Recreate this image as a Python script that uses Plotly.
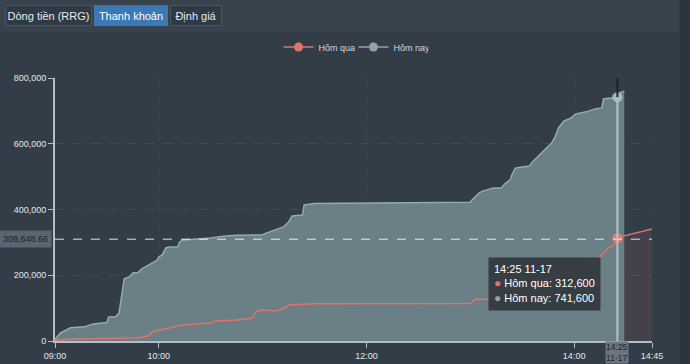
import plotly.graph_objects as go

DAY = "2023-11-17"

# Hôm nay (today) cumulative liquidity
today_times = ["09:00", "09:03", "09:09", "09:17", "09:22", "09:28", "09:30", "09:31", "09:35", "09:37",
               "09:39", "09:40", "09:43", "09:45", "09:48", "09:50", "09:52", "09:56", "09:59", "10:00",
               "10:02", "10:04", "10:06", "10:11", "10:12", "10:14", "10:22", "10:30", "10:37", "10:45",
               "11:00", "11:04", "11:12", "11:15", "11:17", "11:23", "11:24", "11:28", "11:30", "13:00",
               "13:01", "13:05", "13:07", "13:13", "13:18", "13:20", "13:23", "13:24", "13:26", "13:30",
               "13:34", "13:36", "13:40", "13:44", "13:47", "13:49", "13:51", "13:54", "13:58", "14:01",
               "14:07", "14:12", "14:16", "14:17", "14:22", "14:25", "14:26", "14:29"]
today_values = [5000, 24000, 40000, 43000, 52000, 55000, 56000, 73000, 74000, 85000,
                155000, 189000, 195000, 207000, 208000, 219000, 225000, 237000, 246000, 256000,
                262000, 283000, 286000, 287000, 301000, 307000, 310000, 313000, 319000, 322000,
                323000, 332000, 347000, 362000, 380000, 383000, 414000, 417000, 418000, 422000,
                429000, 450000, 456000, 465000, 466000, 478000, 490000, 505000, 526000, 529000,
                532000, 545000, 566000, 587000, 602000, 621000, 648000, 669000, 678000, 691000,
                697000, 706000, 709000, 736000, 739000, 741600, 754000, 760000]

# Hôm qua (yesterday) cumulative liquidity
yest_times = ["09:00", "09:09", "09:48", "09:54", "09:55", "09:57", "10:03", "10:14", "10:22", "10:30",
              "10:33", "10:45", "10:54", "10:56", "10:59", "11:08", "11:16", "11:27", "11:30", "13:00",
              "13:03", "13:11", "13:15", "13:30", "13:45", "14:00", "14:10", "14:15", "14:17", "14:20",
              "14:23", "14:25", "14:26", "14:45"]
yest_values = [2000, 5000, 10000, 15000, 21000, 30000, 36000, 49000, 52000, 55000,
               61000, 64000, 70000, 88000, 94000, 91000, 110000, 113000, 113000, 114000,
               127000, 127000, 146000, 165000, 190000, 215000, 235000, 256000, 268000, 283000,
               292000, 312600, 316000, 341000]

x_tick_labels = ["09:00", "10:00", "12:00", "14:00", "14:45"]
y_tick_values = [0, 200000, 400000, 600000, 800000]
series_names = ["Hôm qua", "Hôm nay"]
hover_time = "14:25"
hover_date_label = "11-17"
hover_yest = 312600
hover_today = 741600
ref_level = 309648.66
buttons = ["Dòng tiền (RRG)", "Thanh khoản", "Định giá"]

C_YEST = "#e0736a"
C_TODAY_LINE = "#96aaaf"
C_TODAY_FILL = "#6b7f86"
C_TODAY_LEG = "#8fa3a8"
BG = "#323d48"
FONT = "Liberation Sans, Arial, Helvetica, sans-serif"


def ts(t):
    return f"{DAY} {t}"


W, H = 690, 364
L, R, T, B = 55, 38, 78, 23
PW, PH = W - L - R, H - T - B


def px(X):
    return (X - L) / PW


def py(Y):
    return (H - B - Y) / PH


fig = go.Figure()

# yesterday area (faint)
fig.add_trace(go.Scatter(x=[ts(t) for t in yest_times], y=yest_values, mode="lines",
                         line=dict(width=0, color=C_YEST), fill="tozeroy",
                         fillcolor="rgba(224,115,106,0.10)", showlegend=False, hoverinfo="skip"))
# today area
fig.add_trace(go.Scatter(x=[ts(t) for t in today_times], y=today_values, mode="lines",
                         line=dict(width=1.5, color=C_TODAY_LINE), fill="tozeroy",
                         fillcolor=C_TODAY_FILL, showlegend=False, hoverinfo="skip"))
# yesterday line
fig.add_trace(go.Scatter(x=[ts(t) for t in yest_times], y=yest_values, mode="lines",
                         line=dict(width=1.5, color=C_YEST), showlegend=False, hoverinfo="skip"))

# legend entries
for name, col in zip(series_names, [C_YEST, C_TODAY_LEG]):
    fig.add_trace(go.Scatter(x=[None], y=[None], mode="lines+markers", name=name,
                             line=dict(color=col, width=1.5), marker=dict(color=col, size=9)))

# hover point markers
fig.add_trace(go.Scatter(x=[ts(hover_time), ts(hover_time)], y=[hover_yest, hover_today],
                         mode="markers", showlegend=False, hoverinfo="skip",
                         marker=dict(color=["#ec7b70", "#a9bcc1"], size=9,
                                     line=dict(width=2, color=["rgba(236,123,112,0.5)", "rgba(169,188,193,0.5)"]))))

shapes = [
    # top toolbar strip
    dict(type="rect", xref="paper", yref="paper", x0=px(0), x1=px(679), y0=py(32), y1=py(0),
         fillcolor="#37424d", line=dict(width=0), layer="below"),
    # right panel edge
    dict(type="rect", xref="paper", yref="paper", x0=px(680), x1=px(690), y0=py(364), y1=py(0),
         fillcolor="#2b353f", line=dict(width=0), layer="below"),
    # reference dashed level
    dict(type="line", xref="paper", yref="y", x0=0, x1=1, y0=ref_level, y1=ref_level,
         line=dict(color="rgba(255,255,255,0.85)", width=1, dash="dash")),
    # crosshair
    dict(type="line", xref="x", yref="y", x0=ts(hover_time), x1=ts(hover_time), y0=0, y1=hover_today,
         line=dict(color="#b4c3c7", width=2)),
    dict(type="line", xref="x", yref="y", x0=ts(hover_time), x1=ts(hover_time), y0=hover_today,
         y1=y_tick_values[-1], line=dict(color="#1d242b", width=2)),
]

annotations = []
btn_x = [48.5, 131, 195.5]
btn_w = [85, 72, 50]
for i, (txt, cx, w) in enumerate(zip(buttons, btn_x, btn_w)):
    active = i == 1
    annotations.append(dict(xref="paper", yref="paper", x=px(cx), y=py(16), text=txt, showarrow=False,
                            xanchor="center", yanchor="middle", width=w, height=19,
                            bgcolor="#3b79b6" if active else "#303a44",
                            bordercolor="#3b79b6" if active else "#4a555f", borderwidth=1, borderpad=0,
                            font=dict(family=FONT, size=11, color="#ffffff" if active else "#e6eaed")))

# y crosshair label
annotations.append(dict(xref="paper", yref="y", x=0, y=ref_level, xanchor="right", yanchor="middle",
                        xshift=-3, text=f"{ref_level:,.2f}", showarrow=False, bgcolor="#5b6570",
                        borderpad=3, font=dict(family=FONT, size=9, color="#1a2128")))
# x crosshair label
annotations.append(dict(xref="x", yref="paper", x=ts(hover_time), y=0, xanchor="center", yanchor="top",
                        yshift=0, text=f"{hover_time}<br>{hover_date_label}", showarrow=False,
                        bgcolor="#6b7480", borderpad=0, font=dict(family=FONT, size=8.5, color="#1e252c")))
# tooltip
dot = "<span style='color:{c};font-size:12px'>●</span>"
tip = (f"{hover_time} {hover_date_label}<br>"
       f"{dot.format(c=C_YEST)} {series_names[0]}: {hover_yest:,}<br>"
       f"{dot.format(c=C_TODAY_LEG)} {series_names[1]}: {hover_today:,}")
annotations.append(dict(xref="x", yref="paper", x=ts(hover_time), y=py(257), xanchor="right", yanchor="top",
                        xshift=-16, text=tip, showarrow=False, align="left",
                        bgcolor="rgba(52,57,62,0.93)", borderpad=5,
                        font=dict(family=FONT, size=11, color="#ffffff")))

fig.update_layout(
    width=W, height=H,
    margin=dict(l=L, r=R, t=T, b=B, pad=0, autoexpand=False),
    paper_bgcolor=BG, plot_bgcolor=BG,
    font=dict(family=FONT, size=9, color="#dde3e7"),
    showlegend=True,
    legend=dict(orientation="h", x=0.5, xanchor="center", y=py(47), yanchor="middle",
                font=dict(family=FONT, size=9, color="#d3dade"), bgcolor="rgba(0,0,0,0)",
                itemwidth=30, entrywidth=30),
    shapes=shapes,
    annotations=annotations,
    xaxis=dict(type="date", range=[ts(x_tick_labels[0]), ts(x_tick_labels[-1])],
               tickvals=[ts(t) for t in x_tick_labels], ticktext=x_tick_labels, automargin=False,
               showline=True, linecolor="#b3bdc3", linewidth=2, ticks="outside", ticklen=5,
               tickcolor="#b3bdc3", tickfont=dict(size=9, color="#e2e7ea"),
               showgrid=True, gridcolor="rgba(255,255,255,0.07)", griddash="dash", zeroline=False),
    yaxis=dict(range=[0, y_tick_values[-1]], tickvals=y_tick_values, tickformat=",", automargin=False,
               showline=True, linecolor="#b3bdc3", linewidth=2, ticks="outside", ticklen=5,
               tickcolor="#b3bdc3", tickfont=dict(size=9, color="#e2e7ea"),
               showgrid=True, gridcolor="rgba(255,255,255,0.07)", griddash="dash", zeroline=False),
)

fig.write_html("out.html", config={"displayModeBar": False},
               post_script="document.body.style.margin='0';document.body.style.background='#323d48';")
